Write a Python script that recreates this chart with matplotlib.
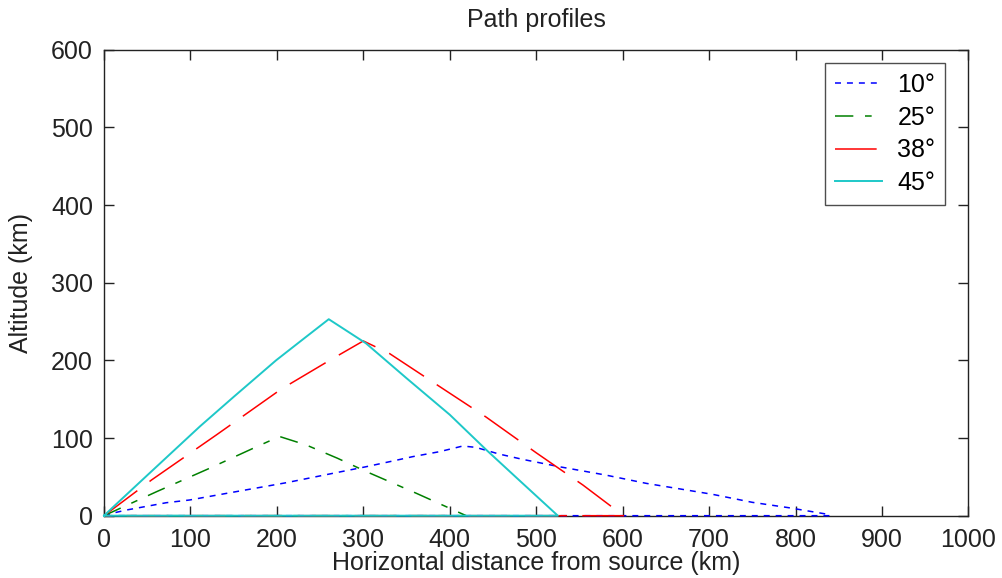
import matplotlib
matplotlib.use("Agg")
import matplotlib.pyplot as plt

plt.rcParams['font.family'] = ['Liberation Sans', 'DejaVu Sans']
plt.rcParams['lines.scale_dashes'] = False

# Ray paths: horizontal distance (km) and altitude (km); each path returns along the ground
x10 = [0, 11, 26, 72, 99, 142, 211, 265, 303, 334, 357, 388, 415, 430, 457, 484, 527, 580, 627, 704, 750, 792, 835, 840, 0]
y10 = [0, 3.5, 7.3, 16.7, 20.2, 28.8, 42.5, 54.6, 63, 70.4, 76, 82.4, 89.7, 88, 79.4, 72.6, 63, 52.4, 41.7, 27.5, 17.2, 10.3, 2.2, 0, 0]

x25 = [0, 61, 120, 173, 203, 234, 270, 303, 361, 419, 0]
y25 = [0, 31, 60, 87, 102, 91, 74, 57, 29, 0, 0]

x38 = [0, 55, 130, 205, 261, 300, 330, 390, 442, 500, 554, 601, 0]
y38 = [0, 46, 104, 163, 200, 225, 209, 165, 127, 81, 39.5, 0, 0]

x45 = [0, 11, 50, 111, 150, 199, 230, 260, 303, 350, 400, 442, 480, 525, 0]
y45 = [0, 11.6, 52, 115, 153, 200, 227, 253, 222, 177, 130, 85, 46, 0, 0]

labels = ['10°', '25°', '38°', '45°']
xticks = [0, 100, 200, 300, 400, 500, 600, 700, 800, 900, 1000]
yticks = [0, 100, 200, 300, 400, 500, 600]

fig = plt.figure(figsize=(10.02, 5.78), dpi=100)
ax = fig.add_axes([0.1038, 0.1078, 0.8627, 0.8062])

lw = 1.1
ax.plot(x10, y10, color='#0000ff', lw=lw, dashes=(4.3, 4.3), label=labels[0], clip_on=False, zorder=3)
ax.plot(x25, y25, color='#008000', lw=lw, dashes=(13.2, 8.4, 4.8, 8.4), label=labels[1], clip_on=False, zorder=3)
ax.plot(x38, y38, color='#ff0000', lw=lw, dashes=(30, 11), label=labels[2], clip_on=False, zorder=3)
ax.plot(x45, y45, color='#1ec8c8', lw=lw + 0.3, label=labels[3], clip_on=False, zorder=3)

ax.set_xlim(0, 1000)
ax.set_ylim(0, 600)
ax.set_xticks(xticks)
ax.set_yticks(yticks)

fs = 18
ink = '#222222'
ax.tick_params(direction='in', length=7, width=1.0, top=True, right=True,
               labelsize=fs, color=ink, labelcolor=ink)
ax.tick_params(axis='x', pad=9)
ax.tick_params(axis='y', pad=8)
for s in ax.spines.values():
    s.set_linewidth(1.0)
    s.set_color(ink)
    s.set_zorder(1)

ax.set_title('Path profiles', fontsize=fs, color=ink, pad=16.5)
ax.set_xlabel('Horizontal distance from source (km)', fontsize=fs, color=ink, labelpad=-1)
ax.set_ylabel('Altitude (km)', fontsize=fs, color=ink, labelpad=13)

leg = ax.legend(loc='upper right', bbox_to_anchor=(0.9734, 0.9715), borderaxespad=0,
                fontsize=fs, frameon=True, fancybox=False, edgecolor=ink,
                handlelength=1.9, handletextpad=0.6, labelspacing=0.35, borderpad=0.4)
leg.get_frame().set_linewidth(1.0)
leg.set_zorder(5)

fig.savefig('out.png', dpi=100, facecolor='white')
